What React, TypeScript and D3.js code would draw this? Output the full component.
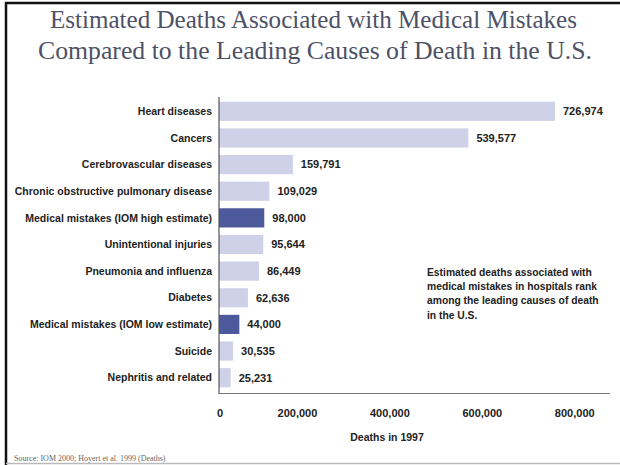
import React from "react";
import * as d3 from "d3";

const categories = [
  "Heart diseases",
  "Cancers",
  "Cerebrovascular diseases",
  "Chronic obstructive pulmonary disease",
  "Medical mistakes (IOM high estimate)",
  "Unintentional injuries",
  "Pneumonia and influenza",
  "Diabetes",
  "Medical mistakes (IOM low estimate)",
  "Suicide",
  "Nephritis and related",
];
const deaths = [726974, 539577, 159791, 109029, 98000, 95644, 86449, 62636, 44000, 30535, 25231];
const highlighted = [false, false, false, false, true, false, false, false, true, false, false];
const xTicks = [0, 200000, 400000, 600000, 800000];
const titleLines = [
  "Estimated Deaths Associated with Medical Mistakes",
  "Compared to the Leading Causes of Death in the U.S.",
];
const noteLines = [
  "Estimated deaths associated with",
  "medical mistakes in hospitals rank",
  "among the leading causes of death",
  "in the U.S.",
];
const axisTitle = "Deaths in 1997";
const sourceText = "Source: IOM 2000; Hoyert et al. 1999 (Deaths)";

const W = 620;
const H = 465;
const sans = "'Liberation Sans', Arial, sans-serif";

export default function App() {
  const x = d3.scaleLinear().domain([0, 726974]).range([219, 555]);
  const y = d3.scaleBand<string>().domain(categories).range([98, 391]).paddingInner(0.28).paddingOuter(0.14);
  const fmt = d3.format(",");

  return (
    <svg width={W} height={H} style={{ position: "absolute", left: 0, top: 0, background: "#fff" }}>
      <rect x={0} y={0} width={W} height={H} fill="#fff" />
      {/* frame */}
      <line x1={5} x2={620} y1={3} y2={3} stroke="#111" strokeWidth={2.5} />
      <line x1={6} x2={6} y1={2} y2={465} stroke="#111" strokeWidth={2.5} />
      <line x1={6} x2={620} y1={463.5} y2={463.5} stroke="#bbb" strokeWidth={1.5} />

      {titleLines.map((t, i) => (
        <text
          key={t}
          x={i === 0 ? 50 : 38}
          y={i === 0 ? 28 : 59}
          textLength={i === 0 ? 527 : 554}
          lengthAdjust="spacingAndGlyphs"
          fontFamily="'Liberation Serif', 'DejaVu Serif', serif"
          fontSize={25}
          fill="#4d5166"
        >
          {t}
        </text>
      ))}

      {categories.map((c, i) => (
        <g key={c}>
          <rect
            x={x(0)}
            y={y(c)!}
            width={x(deaths[i]) - x(0)}
            height={y.bandwidth()}
            fill={highlighted[i] ? "#4c5a9c" : "#cfd1e8"}
          />
          <text
            x={212}
            y={y(c)! + y.bandwidth() / 2}
            dy="0.35em"
            textAnchor="end"
            fontFamily={sans}
            fontWeight="bold"
            fontSize={10.5}
            fill="#222"
          >
            {c}
          </text>
          <text
            x={x(deaths[i]) + 8}
            y={y(c)! + y.bandwidth() / 2}
            dy="0.35em"
            fontFamily={sans}
            fontWeight="bold"
            fontSize={11}
            fill="#222"
          >
            {fmt(deaths[i])}
          </text>
        </g>
      ))}

      <line x1={x(0)} x2={x(0)} y1={97} y2={394} stroke="#555" strokeWidth={1.2} />
      <line x1={x(0)} x2={610} y1={393.5} y2={393.5} stroke="#777" strokeWidth={1.2} />

      {xTicks.map((t) => (
        <text
          key={t}
          x={x(t) + (t === 0 ? 1 : -14)}
          y={413}
          dy="0.35em"
          textAnchor="middle"
          fontFamily={sans}
          fontWeight="bold"
          fontSize={11}
          fill="#222"
        >
          {fmt(t)}
        </text>
      ))}
      <text
        x={387}
        y={437}
        dy="0.35em"
        textAnchor="middle"
        fontFamily={sans}
        fontWeight="bold"
        fontSize={10.5}
        fill="#222"
      >
        {axisTitle}
      </text>

      {noteLines.map((t, i) => (
        <text
          key={t}
          x={427}
          y={272 + i * 14.4}
          dy="0.35em"
          fontFamily={sans}
          fontWeight="bold"
          fontSize={10.3}
          fill="#222"
        >
          {t}
        </text>
      ))}

      <text x={14} y={461} fontFamily="'Liberation Serif', serif" fontSize={8} fill="#666">
        {sourceText}
      </text>
    </svg>
  );
}
